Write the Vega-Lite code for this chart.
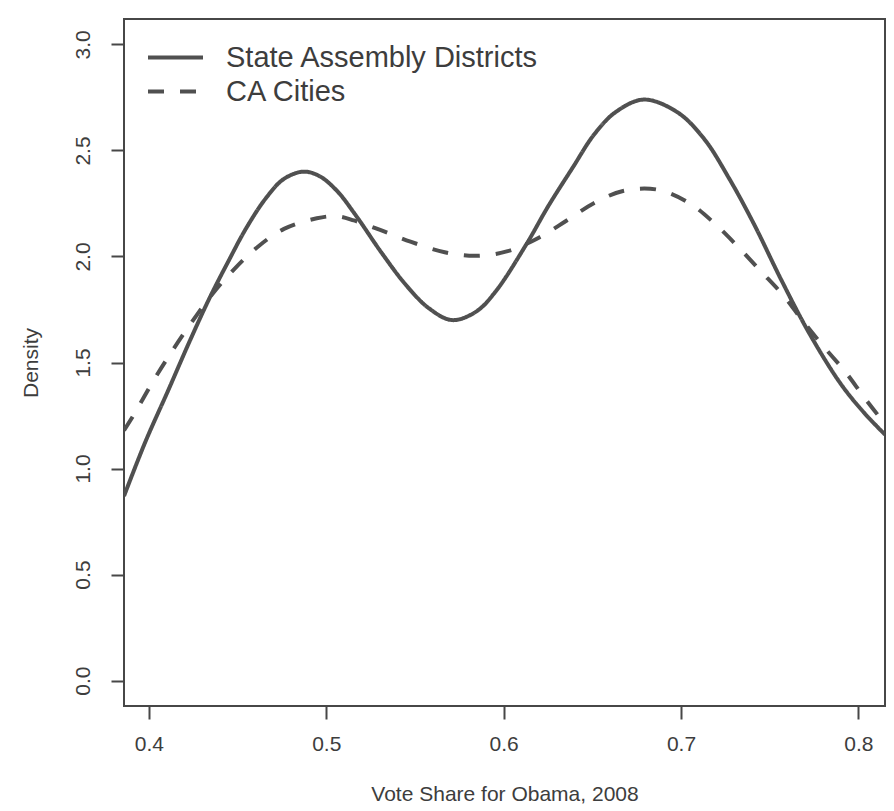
{
  "$schema": "https://vega.github.io/schema/vega-lite/v6.json",
  "width": 761,
  "height": 687,
  "autosize": {"type": "none"},
  "padding": {"left": 124, "top": 19, "right": 9, "bottom": 105},
  "background": "white",
  "config": {
    "font": "Liberation Sans",
    "view": {"stroke": "#474747", "strokeWidth": 2},
    "axis": {
      "domain": false,
      "grid": false,
      "ticks": true,
      "tickColor": "#474747",
      "tickWidth": 2,
      "tickSize": 13,
      "labelFont": "Liberation Sans",
      "labelFontSize": 21,
      "labelColor": "#3d3d3d",
      "titleFont": "Liberation Sans",
      "titleFontSize": 21,
      "titleFontWeight": "normal",
      "titleColor": "#3d3d3d"
    }
  },
  "data": {
    "values": [
      {"series": "State Assembly Districts", "x": 0.386, "y": 0.87},
      {"series": "State Assembly Districts", "x": 0.398, "y": 1.125},
      {"series": "State Assembly Districts", "x": 0.411, "y": 1.37},
      {"series": "State Assembly Districts", "x": 0.423, "y": 1.60},
      {"series": "State Assembly Districts", "x": 0.434, "y": 1.80},
      {"series": "State Assembly Districts", "x": 0.445, "y": 1.98},
      {"series": "State Assembly Districts", "x": 0.455, "y": 2.135},
      {"series": "State Assembly Districts", "x": 0.466, "y": 2.275},
      {"series": "State Assembly Districts", "x": 0.476, "y": 2.365},
      {"series": "State Assembly Districts", "x": 0.487, "y": 2.40},
      {"series": "State Assembly Districts", "x": 0.496, "y": 2.38},
      {"series": "State Assembly Districts", "x": 0.506, "y": 2.31},
      {"series": "State Assembly Districts", "x": 0.517, "y": 2.19},
      {"series": "State Assembly Districts", "x": 0.531, "y": 2.02},
      {"series": "State Assembly Districts", "x": 0.545, "y": 1.865},
      {"series": "State Assembly Districts", "x": 0.558, "y": 1.755},
      {"series": "State Assembly Districts", "x": 0.571, "y": 1.70},
      {"series": "State Assembly Districts", "x": 0.5845, "y": 1.74},
      {"series": "State Assembly Districts", "x": 0.5955, "y": 1.835},
      {"series": "State Assembly Districts", "x": 0.613, "y": 2.06},
      {"series": "State Assembly Districts", "x": 0.625, "y": 2.235},
      {"series": "State Assembly Districts", "x": 0.639, "y": 2.42},
      {"series": "State Assembly Districts", "x": 0.651, "y": 2.575},
      {"series": "State Assembly Districts", "x": 0.663, "y": 2.68},
      {"series": "State Assembly Districts", "x": 0.679, "y": 2.74},
      {"series": "State Assembly Districts", "x": 0.698, "y": 2.68},
      {"series": "State Assembly Districts", "x": 0.713, "y": 2.555},
      {"series": "State Assembly Districts", "x": 0.727, "y": 2.37},
      {"series": "State Assembly Districts", "x": 0.741, "y": 2.155},
      {"series": "State Assembly Districts", "x": 0.7565, "y": 1.89},
      {"series": "State Assembly Districts", "x": 0.7725, "y": 1.635},
      {"series": "State Assembly Districts", "x": 0.790, "y": 1.40},
      {"series": "State Assembly Districts", "x": 0.803, "y": 1.265},
      {"series": "State Assembly Districts", "x": 0.815, "y": 1.16},
      {"series": "CA Cities", "x": 0.386, "y": 1.18},
      {"series": "CA Cities", "x": 0.392, "y": 1.26},
      {"series": "CA Cities", "x": 0.403, "y": 1.42},
      {"series": "CA Cities", "x": 0.414, "y": 1.565},
      {"series": "CA Cities", "x": 0.4246, "y": 1.695},
      {"series": "CA Cities", "x": 0.4355, "y": 1.82},
      {"series": "CA Cities", "x": 0.4475, "y": 1.935},
      {"series": "CA Cities", "x": 0.4613, "y": 2.045},
      {"series": "CA Cities", "x": 0.4762, "y": 2.13},
      {"series": "CA Cities", "x": 0.4947, "y": 2.18},
      {"series": "CA Cities", "x": 0.506, "y": 2.19},
      {"series": "CA Cities", "x": 0.5156, "y": 2.17},
      {"series": "CA Cities", "x": 0.5304, "y": 2.125},
      {"series": "CA Cities", "x": 0.5475, "y": 2.07},
      {"series": "CA Cities", "x": 0.5668, "y": 2.02},
      {"series": "CA Cities", "x": 0.5843, "y": 2.003},
      {"series": "CA Cities", "x": 0.6023, "y": 2.025},
      {"series": "CA Cities", "x": 0.6201, "y": 2.09},
      {"series": "CA Cities", "x": 0.6356, "y": 2.17},
      {"series": "CA Cities", "x": 0.6506, "y": 2.25},
      {"series": "CA Cities", "x": 0.6678, "y": 2.31},
      {"series": "CA Cities", "x": 0.6869, "y": 2.315},
      {"series": "CA Cities", "x": 0.7041, "y": 2.255},
      {"series": "CA Cities", "x": 0.7184, "y": 2.16},
      {"series": "CA Cities", "x": 0.7317, "y": 2.05},
      {"series": "CA Cities", "x": 0.7445, "y": 1.935},
      {"series": "CA Cities", "x": 0.7578, "y": 1.815},
      {"series": "CA Cities", "x": 0.7683, "y": 1.70},
      {"series": "CA Cities", "x": 0.7799, "y": 1.58},
      {"series": "CA Cities", "x": 0.7927, "y": 1.455},
      {"series": "CA Cities", "x": 0.8033, "y": 1.335},
      {"series": "CA Cities", "x": 0.815, "y": 1.21}
    ]
  },
  "mark": {"type": "line", "interpolate": "catmull-rom", "strokeWidth": 4, "color": "#505050", "clip": true, "strokeCap": "butt"},
  "encoding": {
    "x": {
      "field": "x",
      "type": "quantitative",
      "scale": {"domain": [0.386, 0.815], "nice": false, "zero": false},
      "axis": {
        "values": [0.4, 0.5, 0.6, 0.7, 0.8],
        "format": ".1f",
        "title": "Vote Share for Obama, 2008",
        "labelPadding": 25,
        "labelBaseline": "middle",
        "titleY": 94,
        "titleBaseline": "alphabetic"
      }
    },
    "y": {
      "field": "y",
      "type": "quantitative",
      "scale": {"domain": [-0.12, 3.12], "nice": false, "zero": false},
      "axis": {
        "values": [0, 0.5, 1, 1.5, 2, 2.5, 3],
        "format": ".1f",
        "title": "Density",
        "labelAngle": -90,
        "labelAlign": "center",
        "labelBaseline": "alphabetic",
        "labelPadding": 22,
        "titleAngle": -90,
        "titleX": -87,
        "titleY": 343.5,
        "titleBaseline": "alphabetic",
        "titleAlign": "center"
      }
    },
    "strokeDash": {
      "field": "series",
      "type": "nominal",
      "scale": {"domain": ["State Assembly Districts", "CA Cities"], "range": [[1, 0], [16, 16]]},
      "legend": {
        "orient": "none",
        "legendX": 37,
        "legendY": 24,
        "title": null,
        "padding": 0,
        "symbolType": "M-2.5,0H2.5",
        "symbolSize": 484,
        "symbolStrokeWidth": 4,
        "symbolStrokeColor": "#505050",
        "labelFont": "Liberation Sans",
        "labelFontSize": 29,
        "labelColor": "#3d3d3d",
        "labelOffset": 36,
        "labelLimit": 700,
        "rowPadding": 4
      }
    }
  }
}
